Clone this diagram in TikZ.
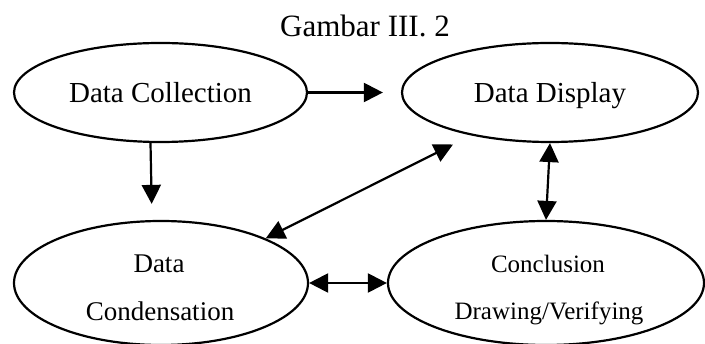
\documentclass[tikz,border=0pt]{standalone}
\usepackage{fontspec}
\setmainfont{Liberation Serif}
\usetikzlibrary{arrows.meta,shapes.geometric,calc}
\begin{document}
\begin{tikzpicture}[x=1pt,y=-1pt,
  stage/.style={draw, ellipse, line width=2.2pt, inner sep=0pt, text depth=0pt},
  link/.style={line width=2.2pt, -{Triangle[length=19pt,width=19pt]}},
  twoway/.style={line width=2.2pt, {Triangle[length=19pt,width=19pt]}-{Triangle[length=19pt,width=19pt]}},
  titlefont/.style={font=\fontsize{31}{36}\selectfont},
  bigtext/.style={font=\fontsize{29}{34}\selectfont},
  midtext/.style={font=\fontsize{27}{31}\selectfont, anchor=base},
  smalltext/.style={font=\fontsize{25}{29}\selectfont, anchor=base}
]
\useasboundingbox (0,0) rectangle (705,344);
\fill[white] (0,0) rectangle (705,344);

% caption
\node[titlefont, anchor=base] (title) at (365,37) {Gambar III. 2};

% the four stages
\node[stage, bigtext, minimum width=293pt, minimum height=99pt] (dc) at (160.5,92.5) {Data Collection};
\node[stage, bigtext, minimum width=296pt, minimum height=99pt] (dd) at (550,92.5) {Data Display};
\node[stage, minimum width=294pt, minimum height=124pt] (cond) at (161,283) {};
\node[stage, minimum width=316pt, minimum height=124pt] (concl) at (546,283) {};

\node[midtext] (cond1) at (159,273) {Data};
\node[midtext] (cond2) at (160,321) {Condensation};
\node[smalltext] (concl1) at (548,273) {Conclusion};
\node[smalltext] (concl2) at (549,320) {Drawing/Verifying};

% flows between stages
\draw[link, shorten >=18pt] (dc) -- (dd);
\draw[link, shorten >=16pt] ([xshift=-10pt]dc.south) -- ([xshift=-9pt]cond.north);
\draw[twoway] (cond.north east) -- ($(dd.center)+(-97,52)$);
\draw[twoway] (dd.south) -- (concl.north);
\draw[twoway] (cond.east) -- (concl.west);
\end{tikzpicture}
\end{document}
